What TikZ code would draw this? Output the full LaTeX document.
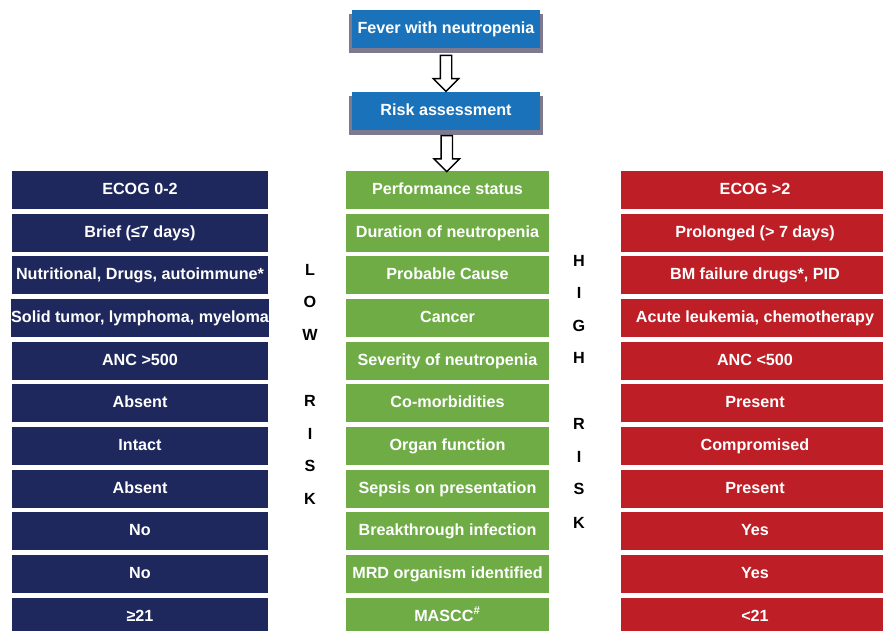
\documentclass[tikz,border=0pt]{standalone}
\usepackage[rgb]{xcolor}
\usepackage{fontspec}
\setmainfont{Liberation Sans}
\usepackage{tikz}
\usetikzlibrary{calc,shapes.arrows,shadows}

\definecolor{lowblue}{HTML}{1F285C}
\definecolor{midgreen}{HTML}{6FAC46}
\definecolor{highred}{HTML}{BE1E25}
\definecolor{stepblue}{HTML}{1A73BA}
\definecolor{shadowgray}{HTML}{7D7A8F}

\tikzset{
    cell/.style={rectangle, inner sep=0pt, minimum height=0.76cm, text=white,
        text height=7pt, text depth=2pt,
        font=\fontsize{9.2}{10}\selectfont\bfseries},
    lowcell/.style={cell, fill=lowblue, minimum width=5.12cm},
    midcell/.style={cell, fill=midgreen, minimum width=4.06cm},
    highcell/.style={cell, fill=highred, minimum width=5.36cm},
    topbox/.style={cell, fill=stepblue, minimum width=3.76cm, minimum height=0.76cm,
        drop shadow={shadow xshift=0pt, shadow yshift=-0.07cm, shadow scale=1.03,
        fill=shadowgray, opacity=1}},
    hollowarrow/.style={single arrow, draw=black, fill=white, line width=0.8pt,
        inner xsep=0pt, inner ysep=0.1cm, minimum height=0.72cm,
        single arrow head extend=0.14cm, single arrow tip angle=90, rotate=-90},
    risklabel/.style={font=\fontsize{9.2}{10}\selectfont\bfseries, inner sep=0pt}
}

\begin{document}
\begin{tikzpicture}[x=0.02cm, y=-0.02cm]
            \useasboundingbox (0,0) rectangle (883,631);

            \node[topbox] (fever) at (446, 29.5) {Fever with neutropenia};
            \node[topbox] (risk) at (446, 111.5) {Risk assessment};

            % left column: low risk
            \node[lowcell] (l1) at (140, 190) {ECOG 0-2};
            \node[lowcell] (l2) at (140, 232.7) {Brief (≤7 days)};
            \node[lowcell] (l3) at (140, 275.3) {Nutritional, Drugs, autoimmune*};
            \node[lowcell] (l4) at (140, 318) {Solid tumor, lymphoma, myeloma};
            \node[lowcell] (l5) at (140, 360.7) {ANC >500};
            \node[lowcell] (l6) at (140, 403.3) {Absent};
            \node[lowcell] (l7) at (140, 446) {Intact};
            \node[lowcell] (l8) at (140, 488.7) {Absent};
            \node[lowcell] (l9) at (140, 531.3) {No};
            \node[lowcell] (l10) at (140, 574) {No};
            \node[lowcell] (l11) at (140, 616.7) {≥21};

            % middle column: factors
            \node[midcell] (m1) at (447.5, 190) {Performance status};
            \node[midcell] (m2) at (447.5, 232.7) {Duration of neutropenia};
            \node[midcell] (m3) at (447.5, 275.3) {Probable Cause};
            \node[midcell] (m4) at (447.5, 318) {Cancer};
            \node[midcell] (m5) at (447.5, 360.7) {Severity of neutropenia};
            \node[midcell] (m6) at (447.5, 403.3) {Co-morbidities};
            \node[midcell] (m7) at (447.5, 446) {Organ function};
            \node[midcell] (m8) at (447.5, 488.7) {Sepsis on presentation};
            \node[midcell] (m9) at (447.5, 531.3) {Breakthrough infection};
            \node[midcell] (m10) at (447.5, 574) {MRD organism identified};
            \node[midcell] (m11) at (447.5, 616.7) {MASCC\textsuperscript{\#}};

            % right column: high risk
            \node[highcell] (r1) at (755, 190) {ECOG >2};
            \node[highcell] (r2) at (755, 232.7) {Prolonged (> 7 days)};
            \node[highcell] (r3) at (755, 275.3) {BM failure drugs*, PID};
            \node[highcell] (r4) at (755, 318) {Acute leukemia, chemotherapy};
            \node[highcell] (r5) at (755, 360.7) {ANC <500};
            \node[highcell] (r6) at (755, 403.3) {Present};
            \node[highcell] (r7) at (755, 446) {Compromised};
            \node[highcell] (r8) at (755, 488.7) {Present};
            \node[highcell] (r9) at (755, 531.3) {Yes};
            \node[highcell] (r10) at (755, 574) {Yes};
            \node[highcell] (r11) at (755, 616.7) {<21};

            % hollow arrows
            \node[hollowarrow] (a1) at ($(fever.south)!0.5!(risk.north)$) {};
            \node[hollowarrow] (a2) at ($(risk.south)!0.5!(m1.north)$) {};

            % side labels
            \node[risklabel] (lowL) at (310, 270) {L};
            \node[risklabel] (lowO) at (310, 302) {O};
            \node[risklabel] (lowW) at (310, 335) {W};
            \node[risklabel] (lowR) at (310, 401) {R};
            \node[risklabel] (lowI) at (310, 434) {I};
            \node[risklabel] (lowS) at (310, 466) {S};
            \node[risklabel] (lowK) at (310, 499) {K};

            \node[risklabel] (highH) at (579, 261) {H};
            \node[risklabel] (highI) at (579, 293) {I};
            \node[risklabel] (highG) at (579, 326) {G};
            \node[risklabel] (highHb) at (579, 358) {H};
            \node[risklabel] (highR) at (579, 424) {R};
            \node[risklabel] (highIb) at (579, 457) {I};
            \node[risklabel] (highS) at (579, 489) {S};
            \node[risklabel] (highK) at (579, 523) {K};
\end{tikzpicture}
\end{document}
